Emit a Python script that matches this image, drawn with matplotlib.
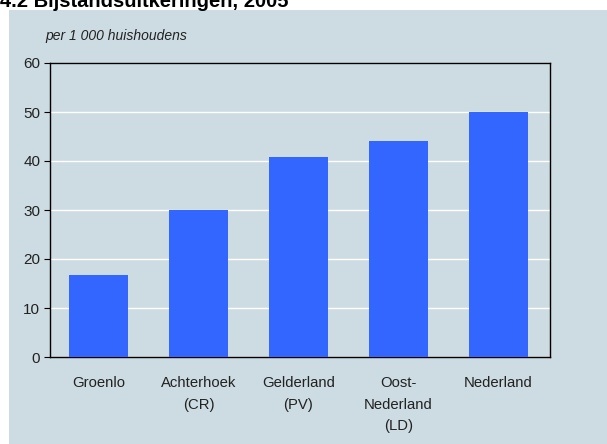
import matplotlib

matplotlib.use("Agg")
import matplotlib.pyplot as plt
from matplotlib.patches import Rectangle

regions = ["Groenlo", "Achterhoek\n(CR)", "Gelderland\n(PV)", "Oost-\nNederland\n(LD)", "Nederland"]
uitkeringen = [16.8, 30.0, 40.8, 44.0, 50.0]
y_ticks = [0, 10, 20, 30, 40, 50, 60]

PANEL = "#cddce2"
BAR = "#3366ff"
W, H = 607, 444

plt.rcParams["font.family"] = ["Liberation Sans", "DejaVu Sans"]

fig = plt.figure(figsize=(W / 100, H / 100), dpi=100)
fig.patch.set_facecolor("white")
fig.patches.append(Rectangle((9 / W, 0), 1 - 9 / W, (H - 10) / H, transform=fig.transFigure,
                             facecolor=PANEL, edgecolor="none", zorder=-5))

ax = fig.add_axes([50 / W, (H - 357) / H, 500 / W, 294 / H])
ax.set_facecolor(PANEL)
ax.bar(range(len(regions)), uitkeringen, width=0.59, color=BAR, zorder=3)
ax.set_xlim(-0.485, len(regions) - 0.485)
ax.set_ylim(0, 60)
ax.set_yticks(y_ticks)
ax.yaxis.grid(True, color="white", linewidth=1.0, zorder=1)
ax.set_axisbelow(True)
ax.set_xticks(range(len(regions)))
ax.set_xticklabels(regions, fontsize=10.7, linespacing=1.68, color="#222222")
ax.tick_params(axis="x", length=0, pad=14)
ax.tick_params(axis="y", length=4, width=0.8, labelsize=11, color="black", labelcolor="#222222", pad=3)
for side in ["left", "bottom", "top", "right"]:
    ax.spines[side].set_color("black")
    ax.spines[side].set_linewidth(1.0)

fig.text(0, 1 - 7 / H, "4.2 Bijstandsuitkeringen, 2005", fontsize=14.5, fontweight="bold",
         ha="left", va="baseline", color="black")
fig.text(45 / W, 1 - 36 / H, "per 1 000 huishoudens", fontsize=10, style="italic",
         ha="left", va="center", color="#222222")

fig.savefig("out.png", dpi=100, facecolor=fig.get_facecolor())
